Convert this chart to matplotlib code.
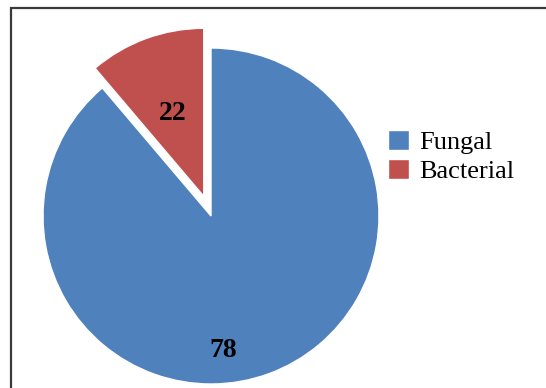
import matplotlib.pyplot as plt
from matplotlib.patches import Rectangle

categories = ['Fungal', 'Bacterial']
label_values = [78, 22]
# sweep of each slice as drawn in the picture (the red slice spans ~40 degrees)
drawn_share = [88.8, 11.2]
colors = ['#4F81BD', '#C0504D']
label_pos = [(0.07, -0.80), (-0.23, 0.61)]

plt.rcParams['font.family'] = ['Liberation Serif', 'DejaVu Serif']

fig = plt.figure(figsize=(5.46, 3.88), dpi=100)
ax = fig.add_axes([0, 0, 1, 1])

wedges, _ = ax.pie(drawn_share, colors=colors, startangle=90, counterclock=False,
                   explode=[0, 0.125], radius=1.0,
                   wedgeprops=dict(edgecolor='white', linewidth=1))

for (x, y), v in zip(label_pos, label_values):
    ax.text(x, y, str(v), ha='center', va='center', fontsize=20,
            fontweight='bold', color='black')

# 1 data unit = 168 px, pie centre at pixel (211, 216)
r_px, cx, cy = 168, 211, 216
ax.set_xlim(-cx / r_px, (546 - cx) / r_px)
ax.set_ylim(-(388 - cy) / r_px, cy / r_px)
ax.axis('off')

leg = fig.legend(wedges, categories, loc='upper left',
                 bbox_to_anchor=(377 / 546, 1 - 119 / 388), frameon=False,
                 fontsize=19, handlelength=0.8, handleheight=0.8,
                 handletextpad=0.4, labelspacing=0.2, borderaxespad=0)

fig.patches.append(Rectangle((10.5 / 546, -0.1), 1.2, 1 - 7.5 / 388 + 0.1,
                             transform=fig.transFigure, fill=False,
                             edgecolor='#3a3a3a', linewidth=1.6))

fig.savefig('out.png', dpi=100)
